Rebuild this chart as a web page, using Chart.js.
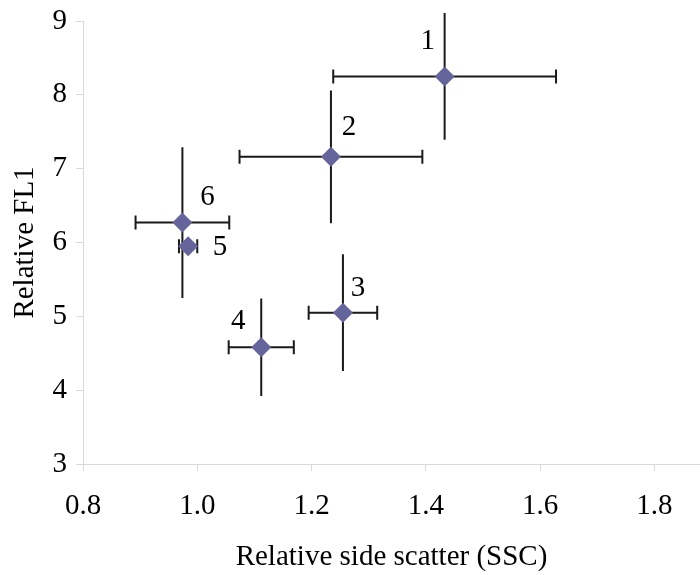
<!DOCTYPE html>
<html>
<head>
<meta charset="utf-8">
<script src="https://cdn.jsdelivr.net/npm/chart.js@4/dist/chart.umd.min.js"></script>
<style>
  html, body { margin: 0; padding: 0; background: #fff; }
  #wrap { width: 700px; height: 575px; }
</style>
</head>
<body>
<div id="wrap"><canvas id="scatterChart" width="700" height="575"></canvas></div>
<script>
// sample numbers and measured means
const sampleLabels = ["1", "2", "3", "4", "5", "6"];
const sscValues = [1.433, 1.234, 1.255, 1.112, 0.984, 0.974];
const fl1Values = [8.25, 7.16, 5.05, 4.58, 5.95, 6.27];
// error bar half-widths
const sscErrors = [0.195, 0.16, 0.06, 0.057, 0.016, 0.082];
const fl1Errors = [0.86, 0.9, 0.79, 0.66, 0, 1.02];
// x axis tick values shown
const sscTicks = [0.8, 1.0, 1.2, 1.4, 1.6, 1.8];

const serif = "'Liberation Serif', 'Times New Roman', serif";
const axisGray = "#d9d9d9";

const errorBars = {
  id: "errorBars",
  beforeDatasetsDraw(chart, args, opts) {
    const ctx = chart.ctx;
    const x = chart.scales.x;
    const y = chart.scales.y;
    ctx.save();
    ctx.strokeStyle = opts.color;
    ctx.lineWidth = opts.width;
    for (let i = 0; i < sscValues.length; i++) {
      const cx = x.getPixelForValue(sscValues[i]);
      const cy = y.getPixelForValue(fl1Values[i]);
      const x0 = x.getPixelForValue(sscValues[i] - sscErrors[i]);
      const x1 = x.getPixelForValue(sscValues[i] + sscErrors[i]);
      const y0 = y.getPixelForValue(fl1Values[i] + fl1Errors[i]);
      const y1 = y.getPixelForValue(fl1Values[i] - fl1Errors[i]);
      ctx.beginPath();
      // horizontal bar with caps
      ctx.moveTo(x0, cy);
      ctx.lineTo(x1, cy);
      ctx.moveTo(x0, cy - opts.cap);
      ctx.lineTo(x0, cy + opts.cap);
      ctx.moveTo(x1, cy - opts.cap);
      ctx.lineTo(x1, cy + opts.cap);
      // vertical bar, no caps
      if (fl1Errors[i] > 0) {
        ctx.moveTo(cx, y0);
        ctx.lineTo(cx, y1);
      }
      ctx.stroke();
    }
    ctx.restore();
  }
};

const pointNumbers = {
  id: "pointNumbers",
  afterDatasetsDraw(chart, args, opts) {
    const ctx = chart.ctx;
    const x = chart.scales.x;
    const y = chart.scales.y;
    ctx.save();
    ctx.font = "29px " + serif;
    ctx.fillStyle = "#000";
    ctx.textAlign = "center";
    ctx.textBaseline = "middle";
    sampleLabels.forEach((lbl, i) => {
      const off = opts.offsets[i];
      ctx.fillText(lbl, x.getPixelForValue(sscValues[i]) + off[0], y.getPixelForValue(fl1Values[i]) + off[1]);
    });
    ctx.restore();
  }
};

const points = sscValues.map((v, i) => ({ x: v, y: fl1Values[i] }));

new Chart(document.getElementById("scatterChart"), {
  type: "scatter",
  data: {
    datasets: [{
      data: points,
      pointStyle: "rectRot",
      pointRadius: 10,
      pointHoverRadius: 10,
      backgroundColor: "#65659c",
      borderColor: "#65659c",
      borderWidth: 0
    }]
  },
  options: {
    responsive: false,
    animation: false,
    layout: { autoPadding: false, padding: { top: 21, right: 0, left: 0, bottom: 0 } },
    plugins: {
      legend: { display: false },
      tooltip: { enabled: false },
      errorBars: { color: "#1a1a1a", width: 2, cap: 7 },
      pointNumbers: { offsets: [[-17, -35], [18, -29], [15, -24], [-23, -26], [32, 1], [25, -25]] }
    },
    scales: {
      x: {
        type: "linear",
        min: 0.8,
        max: 1.88,
        afterBuildTicks(s) { s.ticks = sscTicks.map(v => ({ value: v })); },
        afterFit(s) { s.height = 111; s.paddingRight = 0; s.paddingLeft = 0; },
        ticks: {
          color: "#000",
          padding: 18,
          maxRotation: 0,
          font: { family: serif, size: 29 },
          callback: v => v.toFixed(1)
        },
        grid: { drawOnChartArea: false, color: axisGray, tickLength: 7 },
        border: { color: axisGray },
        title: {
          display: true,
          text: "Relative side scatter (SSC)",
          color: "#000",
          font: { family: serif, size: 29 },
          padding: { top: 0, bottom: 0 }
        }
      },
      y: {
        min: 3,
        max: 9,
        afterFit(s) { s.width = 83; s.paddingTop = 0; s.paddingBottom = 0; },
        ticks: {
          stepSize: 1,
          color: "#000",
          padding: 9,
          font: { family: serif, size: 29 }
        },
        grid: { drawOnChartArea: false, color: axisGray, tickLength: 7 },
        border: { color: axisGray },
        title: {
          display: true,
          text: "Relative FL1",
          color: "#000",
          font: { family: serif, size: 29 },
          padding: { top: 8, bottom: 0 }
        }
      }
    }
  },
  plugins: [errorBars, pointNumbers]
});
</script>
</body>
</html>
